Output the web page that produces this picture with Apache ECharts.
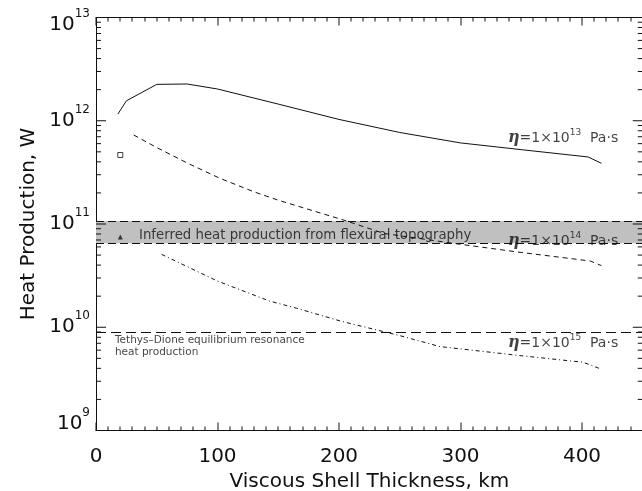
<!DOCTYPE html>
<html>
<head>
<meta charset="utf-8">
<script src="https://cdn.jsdelivr.net/npm/echarts@6/dist/echarts.min.js"></script>
<style>
  html, body { margin: 0; padding: 0; background: #fff; }
  #chart { width: 642px; height: 491px; }
</style>
</head>
<body>
<div id="chart"></div>
<script>
// shell thickness (km) and heat production (W) for three viscosities
const eta13X = [18, 25, 50, 75, 100, 150, 200, 250, 300, 350, 405, 416];
const eta13W = [1.16e12, 1.56e12, 2.25e12, 2.27e12, 2.03e12, 1.45e12, 1.03e12, 7.7e11, 6.1e11, 5.25e11, 4.46e11, 3.87e11];

const eta14X = [31, 50, 75, 102, 130, 150, 204, 237, 294, 350, 407, 416];
const eta14W = [7.28e11, 5.5e11, 3.9e11, 2.77e11, 2.05e11, 1.7e11, 1.09e11, 8.1e10, 6.5e10, 5.3e10, 4.38e10, 3.95e10];

const eta15X = [54, 100, 143, 165, 201, 250, 283, 350, 401, 416];
const eta15W = [5.08e10, 2.8e10, 1.79e10, 1.53e10, 1.15e10, 8.3e9, 6.5e9, 5.3e9, 4.58e9, 3.92e9];

// single measured points
const squarePoint = [20, 4.66e11];
const trianglePoint = [20, 7.48e10];

// flexural topography band and Tethys-Dione level
const flexBand = [6.5e10, 1.07e11];
const tethysDione = 8.9e9;

// axis tick labels
const xMajorTicks = [0, 100, 200, 300, 400];
const yMajorTicks = [1e9, 1e10, 1e11, 1e12, 1e13];

const XMIN = 0, XMAX = 450, YMIN = 1e9, YMAX = 1e13;

// minor ticks: every 10 km, and 2..9 inside each decade
const xMinorTicks = [];
for (let v = 10; v < XMAX; v += 10) if (v % 100 !== 0) xMinorTicks.push(v);
const yMinorTicks = [];
for (let d = 9; d < 13; d++) for (let k = 2; k <= 9; k++) yMinorTicks.push(k * Math.pow(10, d));

const FONT = 'DejaVu Sans';
const INK = '#111';

const zip = (xs, ys) => xs.map((x, i) => [x, ys[i]]);

const chart = echarts.init(document.getElementById('chart'));

const frameLine = { color: INK, width: 1 };
const tickStyle = { stroke: INK, lineWidth: 1 };

function yLabel(v) {
  const e = Math.round(Math.log10(v));
  const txt = '{b|10}{e|' + e + '}';
  // the end labels sit inside the frame, like the original plot
  if (v >= YMAX) return '{sp| }\n' + txt;
  if (v <= YMIN) return txt + '\n{sp| }';
  return txt;
}

const etaRich = {
  g: { fontFamily: 'DejaVu Serif', fontStyle: 'italic', fontWeight: 'bold', fontSize: 16, color: INK },
  t: { fontFamily: FONT, fontSize: 14, color: INK, lineHeight: 20 },
  s: { fontFamily: FONT, fontSize: 9, color: INK, verticalAlign: 'top' }
};

function etaLabel(x, y, exp) {
  return {
    type: 'scatter', symbolSize: 0, silent: true, z: 5,
    data: [[x, y]],
    label: {
      show: true, position: 'right', distance: 0,
      formatter: '{g|η}{t|=1×10}{s|' + exp + '}{t|  Pa·s}',
      rich: etaRich
    }
  };
}

function textLabel(x, y, text, size, lh) {
  return {
    type: 'scatter', symbolSize: 0, silent: true, z: 5,
    data: [[x, y]],
    label: {
      show: true, position: 'right', distance: 0, formatter: text,
      fontFamily: FONT, fontSize: size, lineHeight: lh, color: INK
    }
  };
}

// ticks drawn inward on all four sides of the frame: [x, y, length]
const xTickData = xMajorTicks.map(v => [v, YMIN, 8]).concat(xMinorTicks.map(v => [v, YMIN, 4]));
const yTickData = yMajorTicks.map(v => [XMIN, v, 10]).concat(yMinorTicks.map(v => [XMIN, v, 5]));

chart.setOption({
  animation: false,
  backgroundColor: '#fff',
  grid: { left: 96, top: 17.5, width: 546.75, height: 413, containLabel: false, outerBoundsMode: 'none' },
  xAxis: [
    {
      type: 'value', min: XMIN, max: XMAX, position: 'bottom',
      axisLine: { show: true, onZero: false, lineStyle: frameLine },
      axisTick: { show: false },
      axisLabel: { show: true, customValues: xMajorTicks, margin: 16, fontFamily: FONT, fontSize: 20, color: INK },
      splitLine: { show: false },
      name: 'Viscous Shell Thickness, km', nameLocation: 'middle', nameGap: 37,
      nameTextStyle: { fontFamily: FONT, fontSize: 20, color: INK }
    },
    {
      type: 'value', min: XMIN, max: XMAX, position: 'top',
      axisLine: { show: true, onZero: false, lineStyle: frameLine },
      axisTick: { show: false }, axisLabel: { show: false }, splitLine: { show: false }
    }
  ],
  yAxis: [
    {
      type: 'log', logBase: 10, min: YMIN, max: YMAX, position: 'left',
      axisLine: { show: true, onZero: false, lineStyle: frameLine },
      axisTick: { show: false },
      axisLabel: {
        show: true, customValues: yMajorTicks, margin: 6, formatter: yLabel,
        rich: {
          b: { fontFamily: FONT, fontSize: 20, color: INK, lineHeight: 34 },
          e: { fontFamily: FONT, fontSize: 12, color: INK, verticalAlign: 'top' },
          sp: { fontSize: 8, lineHeight: 14 }
        }
      },
      splitLine: { show: false },
      name: 'Heat Production, W', nameLocation: 'middle', nameGap: 50,
      nameTextStyle: { fontFamily: FONT, fontSize: 20, color: INK }
    },
    {
      type: 'log', logBase: 10, min: YMIN, max: YMAX, position: 'right',
      axisLine: { show: true, onZero: false, lineStyle: frameLine },
      axisTick: { show: false }, axisLabel: { show: false }, splitLine: { show: false }
    }
  ],
  series: [
    {
      name: 'band', type: 'line', data: [], silent: true,
      markArea: {
        silent: true,
        itemStyle: { color: '#c0c0c0' },
        data: [[{ yAxis: flexBand[0] }, { yAxis: flexBand[1] }]]
      },
      markLine: {
        silent: true, symbol: 'none', label: { show: false },
        lineStyle: { color: INK, width: 1, type: [8, 4] },
        data: [{ yAxis: flexBand[0] }, { yAxis: flexBand[1] }]
      }
    },
    {
      name: 'tethys', type: 'line', data: [], silent: true,
      markLine: {
        silent: true, symbol: 'none', label: { show: false },
        lineStyle: { color: INK, width: 1, type: [10, 5] },
        data: [{ yAxis: tethysDione }]
      }
    },
    {
      name: 'xTicks', type: 'custom', silent: true, clip: false, z: 6,
      data: xTickData,
      renderItem: (params, api) => {
        const v = api.value(0), len = api.value(2);
        const b = api.coord([v, YMIN]);
        const t = api.coord([v, YMAX]);
        const x = Math.round(b[0]) - 0.5;
        return {
          type: 'group',
          children: [
            { type: 'rect', shape: { x: x, y: b[1] - len, width: 1, height: len }, style: { fill: INK } },
            { type: 'rect', shape: { x: x, y: t[1], width: 1, height: len }, style: { fill: INK } }
          ]
        };
      }
    },
    {
      name: 'yTicks', type: 'custom', silent: true, clip: false, z: 6,
      data: yTickData,
      renderItem: (params, api) => {
        const v = api.value(1), len = api.value(2);
        const l = api.coord([XMIN, v]);
        const r = api.coord([XMAX, v]);
        return {
          type: 'group',
          children: [
            { type: 'line', shape: { x1: l[0], y1: l[1], x2: l[0] + len, y2: l[1] }, style: tickStyle },
            { type: 'line', shape: { x1: r[0] - len, y1: r[1], x2: r[0], y2: r[1] }, style: tickStyle }
          ]
        };
      }
    },
    {
      name: 'eta13', type: 'line', data: zip(eta13X, eta13W), symbol: 'none', z: 4,
      lineStyle: { color: INK, width: 1 }
    },
    {
      name: 'eta14', type: 'line', data: zip(eta14X, eta14W), symbol: 'none', z: 4,
      lineStyle: { color: INK, width: 1, type: [5, 4] }
    },
    {
      name: 'eta15', type: 'line', data: zip(eta15X, eta15W), symbol: 'none', z: 4,
      lineStyle: { color: INK, width: 1, type: [4, 3, 1, 3] }
    },
    {
      name: 'square', type: 'scatter', data: [squarePoint], symbol: 'rect', symbolSize: 5, z: 4,
      itemStyle: { color: '#fff', borderColor: INK, borderWidth: 1 }
    },
    {
      name: 'triangle', type: 'scatter', data: [trianglePoint], symbol: 'triangle', symbolSize: 5, z: 4,
      itemStyle: { color: INK }
    },
    etaLabel(339, 6.8e11, 13),
    etaLabel(339, 6.84e10, 14),
    etaLabel(339, 7.03e9, 15),
    textLabel(35.4, 7.7e10, 'Inferred heat production from flexural topography', 13.3, 16),
    textLabel(15.6, 6.58e9, 'Tethys–Dione equilibrium resonance\nheat production', 10.5, 12)
  ]
});
</script>
</body>
</html>
